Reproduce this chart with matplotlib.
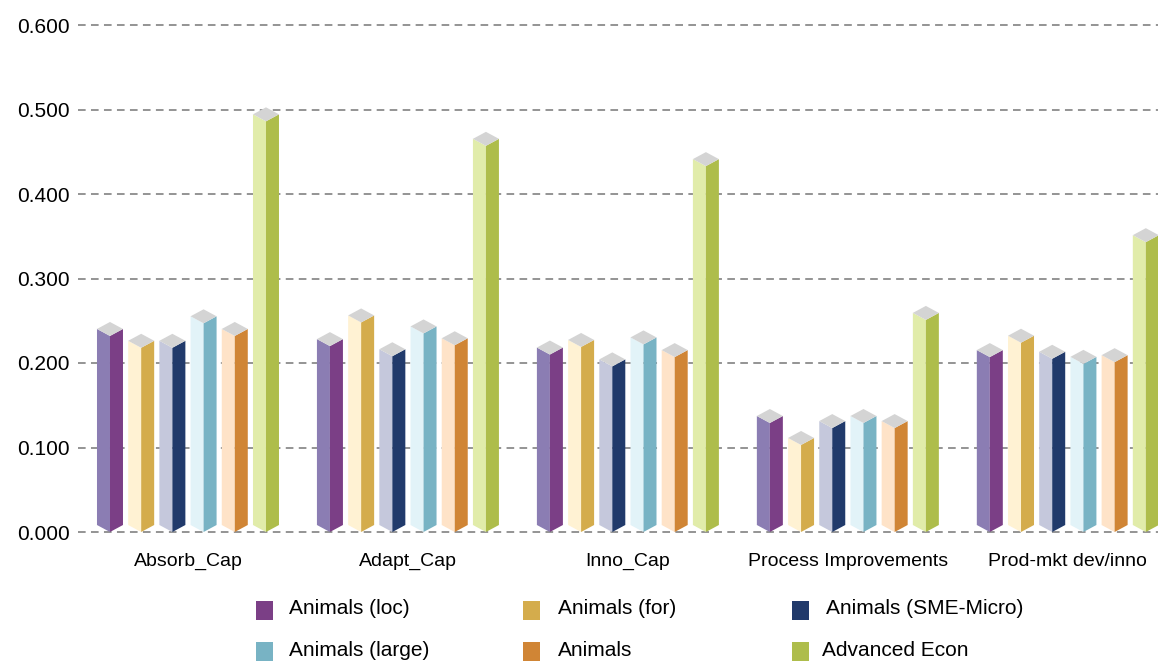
# Barres "3D" (prismes) par type de capacite et par groupe d'entreprises.
# Chaque barre : face gauche claire, face droite foncee, dessus gris en losange.
import numpy as np
import matplotlib
matplotlib.use("Agg")
import matplotlib.pyplot as plt
from matplotlib.patches import Polygon, Rectangle

categories = ["Absorb_Cap", "Adapt_Cap", "Inno_Cap", "Process Improvements",
              "Prod-mkt dev/inno"]
series = ["Animals (loc)", "Animals (for)", "Animals (SME-Micro)",
          "Animals (large)", "Animals", "Advanced Econ"]
animals_loc = [0.232, 0.220, 0.210, 0.129, 0.207]
animals_for = [0.218, 0.248, 0.219, 0.103, 0.224]
animals_sme = [0.218, 0.208, 0.196, 0.123, 0.205]
animals_large = [0.247, 0.235, 0.222, 0.129, 0.199]
animals = [0.232, 0.221, 0.207, 0.123, 0.201]
advanced_econ = [0.486, 0.457, 0.433, 0.251, 0.343]
valeurs = [animals_loc, animals_for, animals_sme, animals_large, animals,
           advanced_econ]
yticks = [0.0, 0.1, 0.2, 0.3, 0.4, 0.5, 0.6]

# couleurs (face claire, face foncee)
CLAIR = ["#8b7db3", "#fff2d3", "#c5c8dc", "#e2f3f8", "#fee3c8", "#e1ecaa"]
FONCE = ["#7b3f86", "#d4ac4c", "#213a6b", "#78b3c4", "#d08535", "#aebd4b"]
DESSUS = "#d4d4d4"
POLICE = ["Liberation Sans Narrow", "Liberation Sans", "DejaVu Sans"]

W, H = 1158, 663
fig = plt.figure(figsize=(W / 100, H / 100), dpi=100)
g, d, b, h = 78, 1158, 532, 25          # bords de l'axe en pixels
ax = fig.add_axes([g / W, (H - b) / H, (d - g) / W, (b - h) / H])
XLIM = (-0.5, 4.41)
ax.set_xlim(*XLIM)
ax.set_ylim(0, 0.6)

px_x = (XLIM[1] - XLIM[0]) / (d - g)    # 1 pixel en unites de donnees
px_y = 0.6 / (b - h)
pas = 31.2 * px_x
demi = 13 * px_x
s = 7 * px_y

for i, (vals, clair, fonce) in enumerate(zip(valeurs, CLAIR, FONCE)):
    for k, v in enumerate(vals):
        m = k + (i - 2.5) * pas
        l, r = m - demi, m + demi
        ax.add_patch(Polygon([(l, s), (l, v + s), (m, v), (m, 0)],
                             closed=True, fc=clair, ec="none", zorder=3))
        ax.add_patch(Polygon([(m, 0), (m, v), (r, v + s), (r, s)],
                             closed=True, fc=fonce, ec="none", zorder=3))
        ax.add_patch(Polygon([(m, v), (l, v + s), (m, v + 2 * s), (r, v + s)],
                             closed=True, fc=DESSUS, ec="none", zorder=3))

# grille pointillee, y compris la ligne du zero (non coupee par l'axe)
for y in yticks:
    ax.axhline(y, color="#777777", lw=1.1, ls=(0, (5, 3.5)), zorder=1,
               clip_on=False)

for sp in ax.spines.values():
    sp.set_visible(False)
ax.set_yticks(yticks)
ax.set_yticklabels([f"{y:.3f}" for y in yticks], family=POLICE, fontsize=15)
ax.set_xticks(range(len(categories)))
ax.set_xticklabels(categories, family=POLICE, fontsize=14)
ax.tick_params(axis="y", length=0, pad=6)
ax.tick_params(axis="x", length=0, pad=15)

# legende a la main : 3 colonnes, 2 lignes
carre_x = [256, 523, 792]
texte_x = [[289, 558, 826], [289, 558, 822]]
ligne_y = [610, 651]
for j, nom in enumerate(series):
    ligne, col = divmod(j, 3)
    yc = ligne_y[ligne]
    fig.patches.append(Rectangle((carre_x[col] / W, (H - yc - 9.5) / H),
                                 17 / W, 19 / H, transform=fig.transFigure,
                                 fc=FONCE[j], ec="none"))
    fig.text(texte_x[ligne][col] / W, (H - yc + 1) / H, nom, family=POLICE,
             fontsize=15, va="center", ha="left")

fig.savefig("out.png", dpi=100)
